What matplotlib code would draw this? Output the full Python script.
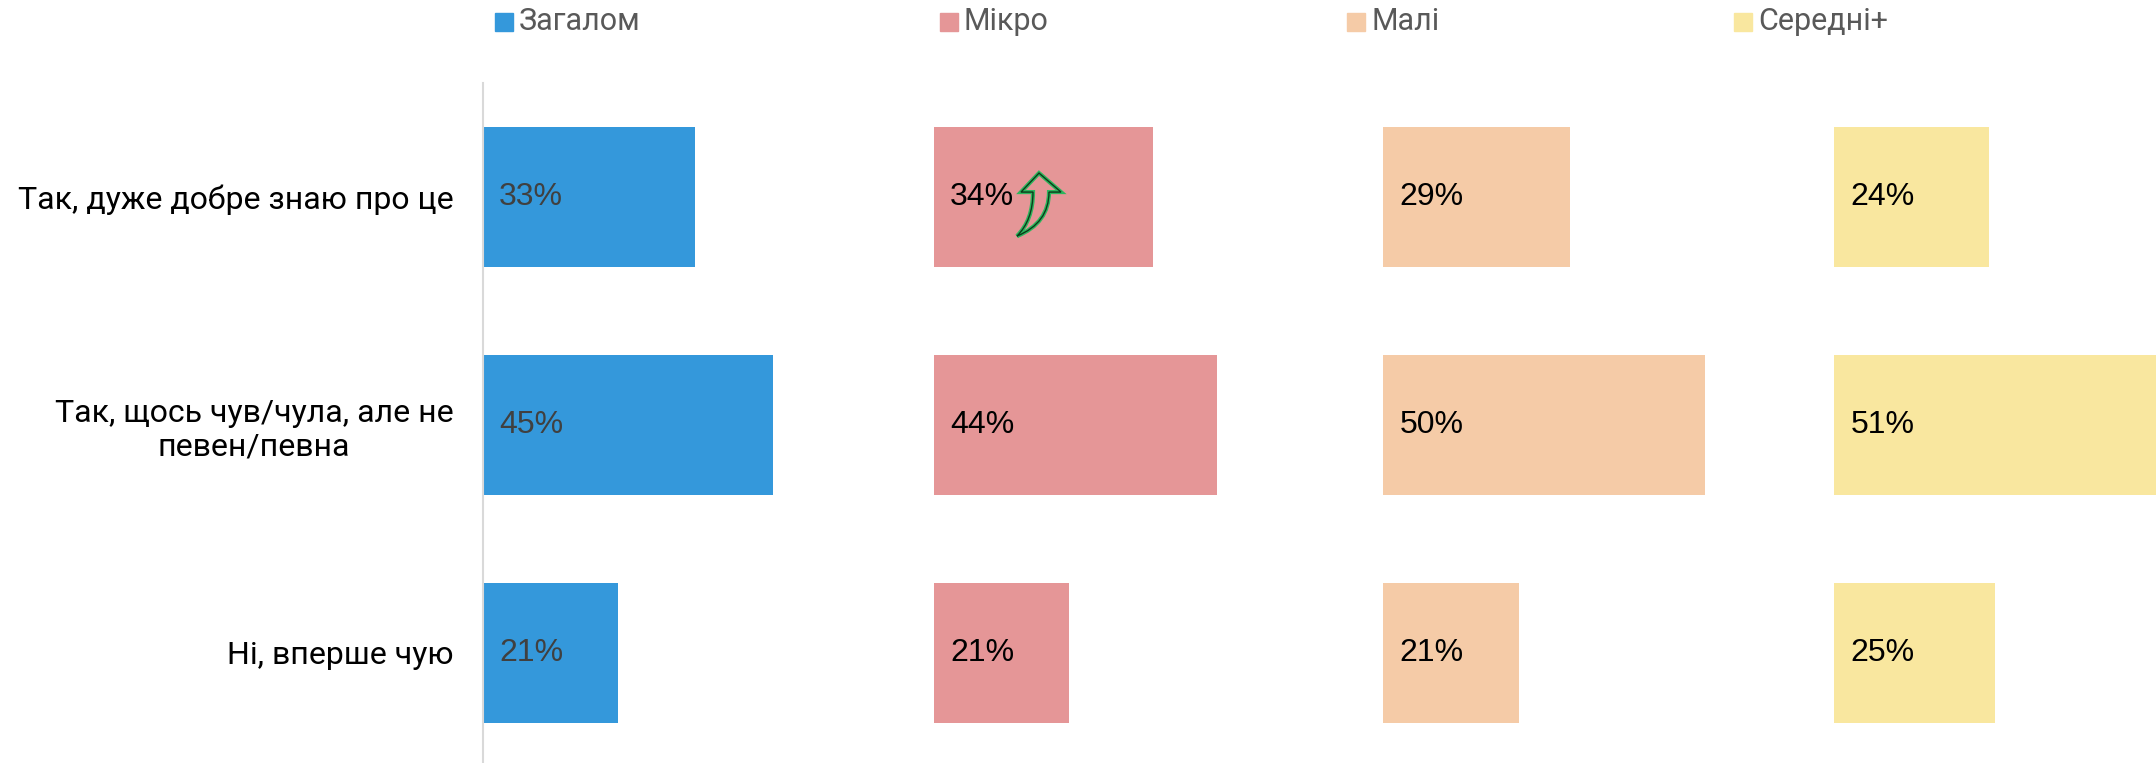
import matplotlib
matplotlib.use('Agg')
import matplotlib.pyplot as plt
from matplotlib.patches import Rectangle, PathPatch
from matplotlib.path import Path
import matplotlib.transforms as mtransforms

# Data
categories = ['Так, дуже добре знаю про це',
              'Так, щось чув/чула, але не\nпевен/певна',
              'Ні, вперше чую']
groups = ['Загалом', 'Мікро', 'Малі', 'Середні+']
values = {
    'Загалом': [33, 45, 21],
    'Мікро': [34, 44, 21],
    'Малі': [29, 50, 21],
    'Середні+': [24, 51, 25],
}
colors = ['#3498DB', '#E59697', '#F5CBA7', '#F9E79F']
label_colors = ['#404040', '#000000', '#000000', '#000000']

W, H = 2156, 763
fig = plt.figure(figsize=(W / 100, H / 100), dpi=100)

cat_font = ['Roboto', 'DejaVu Sans']
num_font = ['Liberation Sans', 'DejaVu Sans']

panel_left = [482.6, 933.6, 1383.2, 1834.2]   # px
panel_w = 451.0
ax_top, ax_bot = 82.6, 767.0

axes = []
for k, g in enumerate(groups):
    ax = fig.add_axes([panel_left[k] / W, 1 - ax_bot / H, panel_w / W, (ax_bot - ax_top) / H])
    ax.barh(range(len(categories)), values[g], height=0.614, color=colors[k])
    ax.set_xlim(0, 70)
    ax.set_ylim(2.5, -0.5)
    for s in ['top', 'right', 'bottom']:
        ax.spines[s].set_visible(False)
    ax.set_xticks([])
    if k == 0:
        ax.spines['left'].set_color('#D9D9D9')
        ax.spines['left'].set_linewidth(1.5)
        ax.set_yticks(range(len(categories)))
        ax.set_yticklabels(categories, fontsize=23, family=cat_font,
                           multialignment='center', linespacing=1.2)
        ax.tick_params(axis='y', length=0, pad=21)
    else:
        ax.spines['left'].set_visible(False)
        ax.set_yticks([])
    ax.patch.set_alpha(0)
    for i, v in enumerate(values[g]):
        ax.annotate(f'{v}%', (0, i), xytext=(12, 0), textcoords='offset points',
                    va='center', ha='left', fontsize=23, family=num_font,
                    color=label_colors[k])
    axes.append(ax)

# Legend
leg_x = [495, 940, 1347, 1734]
leg_y = 22
for k, g in enumerate(groups):
    fig.patches.append(Rectangle(((leg_x[k]) / W, 1 - (leg_y + 9) / H), 18 / W, 18 / H,
                                 transform=fig.transFigure, color=colors[k]))
    fig.text((leg_x[k] + 24) / W, 1 - leg_y / H, g, fontsize=22, family=cat_font,
             color='#595959', va='center', ha='left')

# Green curved arrow next to the Мікро "34%" label
ax_m = axes[1]
fig.canvas.draw()
ax0, ay0 = ax_m.transData.transform((0, 0))
pts = [(105.4, 23.6), (127.4, 4.6), (115.4, 4.6), (115.4, -26.4), (83.4, -39.4),
       (99.4, -23.4), (99.4, 4.6), (87.4, 4.6), (105.4, 23.6)]
codes = [Path.MOVETO, Path.LINETO, Path.LINETO, Path.CURVE3, Path.CURVE3,
         Path.CURVE3, Path.CURVE3, Path.LINETO, Path.CLOSEPOLY]
arrow = Path([(ax0 + dx, ay0 + dy) for dx, dy in pts], codes)
for lw, ec in [(3.0, '#2DB55D'), (1.0, '#0B3B1A')]:
    fig.patches.append(PathPatch(arrow, transform=mtransforms.IdentityTransform(),
                                 facecolor='none', edgecolor=ec, lw=lw, joinstyle='miter'))

fig.savefig('out.png', dpi=100)
